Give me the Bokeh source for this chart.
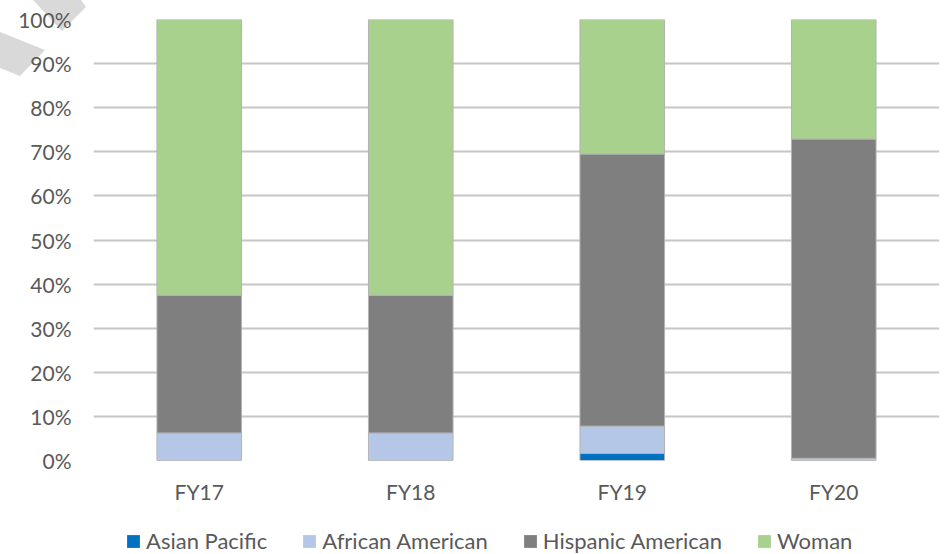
from bokeh.plotting import figure
from bokeh.layouts import column
from bokeh.models import (FactorRange, Range1d, FixedTicker, NumeralTickFormatter,
                          Legend, LegendItem, Div)
from bokeh.embed import file_html
from bokeh.resources import INLINE

# Share of each group per fiscal year (fractions of 100%)
years = ["FY17", "FY18", "FY19", "FY20"]
asian_pacific = [0.0, 0.0, 0.016, 0.0]
african_american = [0.0625, 0.0625, 0.062, 0.005]
hispanic_american = [0.3125, 0.3125, 0.617, 0.724]
woman = [0.625, 0.625, 0.305, 0.271]

series = ["Asian Pacific", "African American", "Hispanic American", "Woman"]
colors = ["#0070C0", "#B4C7E7", "#7F7F7F", "#A9D18E"]
y_ticks = [i / 10 for i in range(11)]

FONT = "Lato"
TEXT = "#595959"
EDGE = "#b3b3b3"
LEGEND_H = 40

source = dict(years=years)
for name, vals in zip(series, [asian_pacific, african_american, hispanic_american, woman]):
    source[name] = vals

# Main chart: 100% stacked columns
p = figure(
    x_range=FactorRange(*years, range_padding=0),
    y_range=Range1d(0, 1),
    width=948, height=554 - LEGEND_H,
    output_backend="svg", toolbar_location=None,
    min_border_left=93, min_border_right=9, min_border_top=19,
    min_border_bottom=554 - LEGEND_H - 460,
    outline_line_color=None, background_fill_color="white",
    border_fill_color="white", border_fill_alpha=0,
)

p.vbar_stack(series, x="years", width=0.4, source=source,
             fill_color=colors, line_color=EDGE, line_width=1)

p.yaxis.ticker = FixedTicker(ticks=y_ticks)
p.yaxis.formatter = NumeralTickFormatter(format="0%")
for ax in (p.xaxis[0], p.yaxis[0]):
    ax.axis_line_color = None
    ax.major_tick_line_color = None
    ax.minor_tick_line_color = None
    ax.major_tick_out = 0
    ax.major_tick_in = 0
    ax.major_label_text_font = FONT
    ax.major_label_text_font_size = "21px"
    ax.major_label_text_color = TEXT
p.yaxis.major_label_standoff = 22
p.xaxis.major_label_standoff = 18

p.xgrid.grid_line_color = None
p.ygrid.ticker = FixedTicker(ticks=y_ticks)
p.ygrid.grid_line_color = "#c6c6c6"
p.ygrid.grid_line_width = 2

# Legend strip under the chart; its keys reuse the same stacked columns,
# kept outside the strip's visible y range so only the legend shows
lg = figure(
    width=948, height=LEGEND_H,
    x_range=FactorRange(*years, range_padding=0), y_range=Range1d(2, 3),
    output_backend="svg", toolbar_location=None,
    x_axis_location=None, y_axis_location=None,
    min_border=0, outline_line_color=None,
    background_fill_color="white", border_fill_color="white",
)
lg.xgrid.grid_line_color = None
lg.ygrid.grid_line_color = None
keys = lg.vbar_stack(series, x="years", width=0.4, source=source,
                     fill_color=colors, line_color=None)
legend = Legend(items=[LegendItem(label=s, renderers=[r]) for s, r in zip(series, keys)],
                orientation="horizontal", location=(32, 0),
                glyph_width=16, glyph_height=16, label_standoff=5, spacing=34,
                padding=0, margin=0, border_line_color=None, background_fill_alpha=0,
                label_text_font=FONT, label_text_font_size="22px", label_text_color=TEXT,
                label_height=22)
lg.add_layout(legend)

# Light grey corner marks sitting behind the upper tick labels
corner = Div(
    text='<svg width="100" height="80" style="display:block" '
         'xmlns="http://www.w3.org/2000/svg">'
         '<polygon points="33,0 81,0 86,7 62,31" fill="#d9d9d9"/>'
         '<polygon points="0,32 45,50 20,76 0,68" fill="#d9d9d9"/></svg>',
    width=100, height=80, margin=0,
    styles={"position": "absolute", "left": "0px", "top": "0px",
            "z-index": "-1", "padding": "0px"},
)

open("out.html", "w").write(file_html(column(corner, p, lg, spacing=0), INLINE))
